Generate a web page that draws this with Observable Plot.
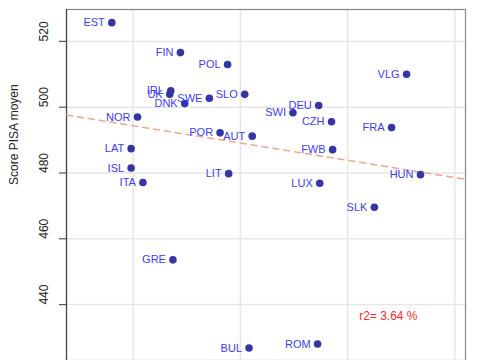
<!DOCTYPE html>
<html><head><meta charset="utf-8">
<script src="https://cdn.jsdelivr.net/npm/d3@7"></script>
<script src="https://cdn.jsdelivr.net/npm/@observablehq/plot@0.6"></script>
<style>body{margin:0;overflow:hidden;background:#fff}</style>
</head><body><div id="chart"></div>
<script>
const countries = ["EST","FIN","POL","IRL","UK","DNK","SWE","SLO","NOR","POR","AUT","LAT","ISL","ITA","LIT","GRE","BUL","VLG","DEU","SWI","CZH","FRA","FWB","HUN","LUX","SLK","ROM"];
const xValues = [8.0,14.4,18.8,13.5,13.4,14.8,17.1,20.4,10.4,18.1,21.1,9.8,9.8,10.9,18.9,13.7,20.8,35.5,27.3,24.9,28.5,34.1,28.6,36.8,27.4,32.5,27.2];
const pisaScores = [525.7,516.6,513.0,505.0,503.9,501.1,502.7,503.9,497.0,492.2,491.2,487.4,481.5,477.1,479.8,453.6,426.8,510.0,500.5,498.3,495.6,493.8,487.1,479.5,476.9,469.6,428.0];
const trendX = [3.77, 41.0];
const trendY = [497.6, 478.1];
const xGrid = [10,20,30,40];
const yTicks = [440,460,480,500,520];
const yLabel = "Score PISA moyen";
const r2Label = "r2= 3.64 %";

const data = countries.map((c,i)=>({c, x:xValues[i], y:pisaScores[i]}));
const trend = trendX.map((x,i)=>({x, y:trendY[i]}));

const chart = Plot.plot({
  width: 485, height: 360,
  marginLeft: 66, marginTop: 9, marginRight: 20, marginBottom: 0,
  style: {fontFamily: "Liberation Sans, Arial, sans-serif", background: "#fff"},
  x: {domain: [3.77, 41.0], axis: null},
  y: {domain: [423.0, 529.7], axis: null},
  marks: [
    Plot.ruleX(xGrid, {stroke: "#e6e6e6", strokeWidth: 1.5}),
    Plot.ruleY(yTicks, {stroke: "#e6e6e6", strokeWidth: 1.5}),
    Plot.frame({stroke: "#888", strokeWidth: 1.2}),
    Plot.axisY({ticks: yTicks, tickSize: 7, tickFormat: () => "", label: null, stroke: "#555", strokeWidth: 1.2}),
    Plot.ruleX([0], {x: () => 3.77, stroke: "#444", strokeWidth: 1.2}),
    Plot.text(yTicks, {y: d => d, text: d => String(d), frameAnchor: "left", dx: -22, rotate: -90, fontSize: 12, fill: "#222"}),
    Plot.text([yLabel], {text: d => d, frameAnchor: "left", dx: -52, rotate: -90, fontSize: 12, fill: "#222"}),
    Plot.line(trend, {x: "x", y: "y", stroke: "#f4a58a", strokeWidth: 1.5, strokeDasharray: "6,5"}),
    Plot.dot(data, {x: "x", y: "y", r: 3.8, fill: "#3535a8", stroke: "none"}),
    Plot.text(data, {x: "x", y: "y", text: "c", textAnchor: "end", dx: -7, fontSize: 11, fill: "#3c3cff"}),
    Plot.text([r2Label], {x: () => 33.8, y: () => 436.4, text: d => d, fontSize: 12, fill: "#ff2a2a"})
  ]
});
document.getElementById("chart").appendChild(chart);
</script></body></html>
